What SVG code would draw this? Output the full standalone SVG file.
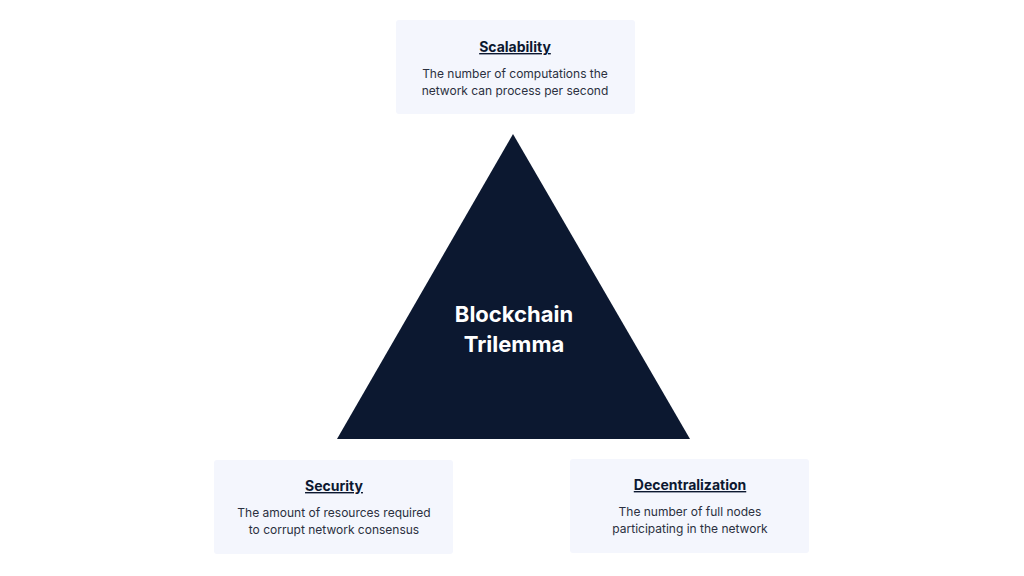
<svg xmlns="http://www.w3.org/2000/svg" width="1024" height="576" viewBox="0 0 1024 576">
<style>
.box{fill:#f4f6fd;}
.t{font-family:Inter,"Noto Sans",sans-serif;font-weight:700;font-size:14px;fill:#0c1830;text-anchor:middle;text-decoration:underline;}
.d{font-family:Inter,"Noto Sans",sans-serif;font-size:12px;fill:#2b3040;text-anchor:middle;}
.c{font-family:Inter,"Noto Sans",sans-serif;font-weight:700;font-size:22px;fill:#ffffff;text-anchor:middle;}
</style>
<rect width="1024" height="576" fill="#ffffff"/>
<g id="trilemma">
<polygon points="513,134 337,439 690,439" fill="#0c1830"/>
<text class="c" x="514" y="322">Blockchain</text>
<text class="c" x="514" y="352">Trilemma</text>
</g>
<g id="scalability">
<rect class="box" x="396" y="20" width="239" height="94" rx="3"/>
<text class="t" x="515" y="52">Scalability</text>
<text class="d" x="515" y="78">The number of computations the</text>
<text class="d" x="515" y="95">network can process per second</text>
</g>
<g id="security">
<rect class="box" x="214" y="460" width="239" height="94" rx="3"/>
<text class="t" x="334" y="491">Security</text>
<text class="d" x="334" y="517">The amount of resources required</text>
<text class="d" x="334" y="534">to corrupt network consensus</text>
</g>
<g id="decentralization">
<rect class="box" x="570" y="459" width="239" height="94" rx="3"/>
<text class="t" x="690" y="490">Decentralization</text>
<text class="d" x="690" y="516">The number of full nodes</text>
<text class="d" x="690" y="533">participating in the network</text>
</g>
<g id="connectors"></g>
</svg>
